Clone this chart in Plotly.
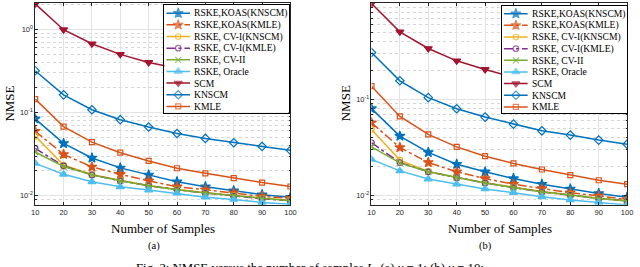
import plotly.graph_objects as go

# ---------------- data ----------------
samples = [10, 20, 30, 40, 50, 60, 70, 80, 90, 100]

series_names = ["RSKE,KOAS(KNSCM)", "RSKE,KOAS(KMLE)", "RSKE, CV-I(KNSCM)",
                "RSKE, CV-I(KMLE)", "RSKE, CV-II", "RSKE, Oracle", "SCM", "KNSCM", "KMLE"]

# (a) nu = 1
koas_knscm_a = [0.084, 0.0425, 0.0284, 0.0216, 0.0178, 0.0147, 0.0128, 0.0115, 0.0103, 0.0096]
koas_kmle_a = [0.0596, 0.0314, 0.0222, 0.0181, 0.0151, 0.0128, 0.0118, 0.0108, 0.0098, 0.0093]
cv1_knscm_a = [0.052, 0.0234, 0.0180, 0.0153, 0.0133, 0.0119, 0.0109, 0.0100, 0.0093, 0.0088]
cv1_kmle_a = [0.037, 0.0228, 0.0178, 0.0151, 0.0132, 0.0118, 0.0108, 0.0099, 0.0092, 0.0087]
cv2_a = [0.0335, 0.0224, 0.0178, 0.0151, 0.0132, 0.0118, 0.0108, 0.0100, 0.0093, 0.0087]
oracle_a = [0.0245, 0.0181, 0.0147, 0.0128, 0.0117, 0.0107, 0.0096, 0.0090, 0.0083, 0.0079]
scm_a = [2.02, 0.99, 0.67, 0.50, 0.40, 0.34, 0.29, 0.25, 0.22, 0.20]
knscm_a = [0.318, 0.163, 0.108, 0.082, 0.067, 0.056, 0.0488, 0.0433, 0.0391, 0.0351]
kmle_a = [0.145, 0.0678, 0.044, 0.0329, 0.0262, 0.0214, 0.0186, 0.0163, 0.0144, 0.0129]

# (b) nu = 10
koas_knscm_b = [0.080, 0.0413, 0.0279, 0.021, 0.0175, 0.0149, 0.013, 0.0116, 0.0104, 0.0095]
koas_kmle_b = [0.0569, 0.0314, 0.0219, 0.0175, 0.0149, 0.013, 0.0117, 0.0106, 0.0098, 0.0090]
cv1_knscm_b = [0.0484, 0.0232, 0.0177, 0.0153, 0.0135, 0.0121, 0.0109, 0.0101, 0.0093, 0.0088]
cv1_kmle_b = [0.0352, 0.0219, 0.0175, 0.0152, 0.0134, 0.012, 0.0108, 0.0100, 0.0092, 0.0087]
cv2_b = [0.0319, 0.0217, 0.0175, 0.0152, 0.0134, 0.012, 0.0108, 0.0100, 0.0092, 0.0087]
oracle_b = [0.0236, 0.0179, 0.0147, 0.013, 0.0116, 0.0106, 0.0096, 0.0089, 0.0084, 0.0079]
scm_b = [1.0, 0.506, 0.339, 0.252, 0.205, 0.17, 0.145, 0.127, 0.113, 0.104]
knscm_b = [0.308, 0.156, 0.104, 0.0796, 0.0652, 0.055, 0.0469, 0.0423, 0.0375, 0.034]
kmle_b = [0.137, 0.0662, 0.043, 0.0319, 0.0255, 0.0214, 0.0185, 0.0162, 0.0143, 0.013]

data_a = [koas_knscm_a, koas_kmle_a, cv1_knscm_a, cv1_kmle_a, cv2_a, oracle_a, scm_a, knscm_a, kmle_a]
data_b = [koas_knscm_b, koas_kmle_b, cv1_knscm_b, cv1_kmle_b, cv2_b, oracle_b, scm_b, knscm_b, kmle_b]

ytick_vals = [0.01, 0.1, 1]
ytick_text = ["10<sup>-2</sup>", "10<sup>-1</sup>", "10<sup>0</sup>"]
xtick_vals = samples

# ---------------- styles ----------------
styles = [
    dict(color="#0072BD", dash="solid", symbol="star", size=7.5),
    dict(color="#D95319", dash="dashdot", symbol="star", size=7.5),
    dict(color="#EDB120", dash="solid", symbol="circle-open", size=5.5),
    dict(color="#7E2F8E", dash="dashdot", symbol="circle-open", size=5.5),
    dict(color="#77AC30", dash="solid", symbol="x-thin-open", size=6),
    dict(color="#4DBEEE", dash="solid", symbol="triangle-up", size=7),
    dict(color="#A2142F", dash="solid", symbol="triangle-down", size=7),
    dict(color="#0072BD", dash="solid", symbol="diamond-open", size=6.5),
    dict(color="#D95319", dash="solid", symbol="square-open", size=5),
]

W, H = 640, 267


def px_x(p):
    return p / W


def px_y(p):
    return (H - p) / H


fig = go.Figure()

for data, xa, ya in [(data_a, "x", "y"), (data_b, "x2", "y2")]:
    for name, vals, st in zip(series_names, data, styles):
        fig.add_trace(go.Scatter(
            x=samples, y=vals, name=name, mode="lines+markers",
            xaxis=xa, yaxis=ya, showlegend=False, cliponaxis=True,
            line=dict(color=st["color"], width=1.5, dash=st["dash"]),
            marker=dict(symbol=st["symbol"], size=st["size"], color=st["color"],
                        line=dict(color=st["color"], width=1.2)),
        ))

# ---------------- custom legends (inset subplots) ----------------
leg_w, leg_h = 127, 107.5
row0, row_gap = 8.2, 11.65
for xa, ya in [("x3", "y3"), ("x4", "y4")]:
    for i, (name, st) in enumerate(zip(series_names, styles)):
        yy = row0 + i * row_gap
        fig.add_trace(go.Scatter(
            x=[2, 14, 26], y=[yy, yy, yy], mode="lines+markers", xaxis=xa, yaxis=ya,
            showlegend=False, hoverinfo="skip",
            line=dict(color=st["color"], width=1.5, dash=st["dash"]),
            marker=dict(symbol=st["symbol"], size=[0, st["size"], 0], color=st["color"],
                        line=dict(color=st["color"], width=1.2)),
        ))
        fig.add_annotation(x=28, y=yy, xref=xa, yref=ya, text=name, showarrow=False,
                           xanchor="left", yanchor="middle",
                           font=dict(family="Liberation Serif", size=9.6, color="#000000"))

grid_c = "#e3e3e3"
frame_c = "#262626"
tick_font = dict(family="Liberation Sans", size=7.5, color=frame_c)
minor_vals = [k * 10 ** e for e in range(-3, 1) for k in range(2, 10)]

ydom = [px_y(204.7), px_y(2.7)]
common_x = dict(range=[10, 100], tickvals=xtick_vals, showgrid=True, gridcolor=grid_c, gridwidth=0.7,
                showline=True, mirror="ticks", linecolor=frame_c, linewidth=0.6,
                ticks="inside", ticklen=3, tickcolor=frame_c, tickwidth=0.6, tickfont=tick_font,
                zeroline=False)
common_y = dict(type="log", tickvals=ytick_vals, ticktext=ytick_text, showgrid=True, gridcolor=grid_c,
                gridwidth=0.7, showline=True, mirror="ticks", linecolor=frame_c, linewidth=0.6,
                ticks="inside", ticklen=3, tickcolor=frame_c, tickwidth=0.6, tickfont=tick_font,
                zeroline=False,
                minor=dict(tickvals=minor_vals, showgrid=True, griddash="dot", gridcolor="#d6d6d6",
                           gridwidth=0.7, ticks="inside", ticklen=1.5, tickcolor=frame_c))

leg_axis_x = dict(showgrid=False, zeroline=False, showticklabels=False, ticks="",
                  showline=True, mirror=True, linecolor="#000000", linewidth=0.7, range=[0, leg_w])
leg_axis_y = dict(showgrid=False, zeroline=False, showticklabels=False, ticks="",
                  showline=True, mirror=True, linecolor="#000000", linewidth=0.7, range=[leg_h, 0])

fig.update_layout(
    width=W, height=H, margin=dict(l=0, r=0, t=0, b=0),
    paper_bgcolor="white", plot_bgcolor="white", showlegend=False,
    xaxis=dict(domain=[px_x(31.7), px_x(291)], anchor="y", **common_x),
    yaxis=dict(domain=ydom, anchor="x", range=[-2.108, 0.32], **common_y),
    xaxis2=dict(domain=[px_x(373.3), px_x(633)], anchor="y2", **common_x),
    yaxis2=dict(domain=ydom, anchor="x2", range=[-2.10, 0.008], **common_y),
    xaxis3=dict(domain=[px_x(163), px_x(163 + leg_w)], anchor="y3", **leg_axis_x),
    yaxis3=dict(domain=[px_y(5 + leg_h), px_y(5)], anchor="x3", **leg_axis_y),
    xaxis4=dict(domain=[px_x(506), px_x(506 + leg_w)], anchor="y4", **leg_axis_x),
    yaxis4=dict(domain=[px_y(5.5 + leg_h), px_y(5.5)], anchor="x4", **leg_axis_y),
)

serif = "Liberation Serif"
texts = [
    dict(x=px_x(6), y=px_y(103.7), text="NMSE", textangle=-90, size=13),
    dict(x=px_x(347), y=px_y(103.7), text="NMSE", textangle=-90, size=13),
    dict(x=px_x(161.4), y=px_y(228), text="Number of Samples", textangle=0, size=13),
    dict(x=px_x(503.5), y=px_y(228), text="Number of Samples", textangle=0, size=13),
    dict(x=px_x(152), y=px_y(245.5), text="(a)", textangle=0, size=10.5),
    dict(x=px_x(489), y=px_y(245.5), text="(b)", textangle=0, size=10.5),
]
for t in texts:
    fig.add_annotation(x=t["x"], y=t["y"], xref="paper", yref="paper", text=t["text"],
                       textangle=t["textangle"], showarrow=False, xanchor="center", yanchor="middle",
                       font=dict(family=serif, size=t["size"], color="#000000"))

fig.add_annotation(x=px_x(132), y=px_y(267.5), xref="paper", yref="paper",
                   text="Fig. 2: NMSE versus the number of samples <i>L</i>. (a) <i>ν</i> = 1; (b) <i>ν</i> = 10;",
                   showarrow=False, xanchor="left", yanchor="middle",
                   font=dict(family=serif, size=12.8, color="#000000"))

fig.write_html("out.html", config={"displayModeBar": False},
               post_script="document.body.style.margin='0px';")
